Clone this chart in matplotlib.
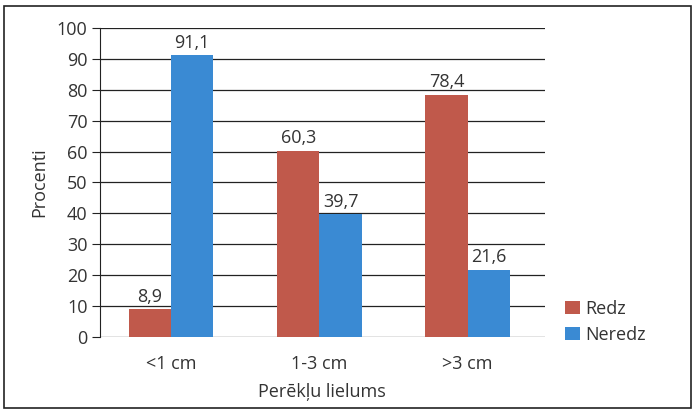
import matplotlib.pyplot as plt
import numpy as np
from matplotlib.patches import Rectangle

categories = ['<1 cm', '1-3 cm', '>3 cm']
redz = [8.9, 60.3, 78.4]
neredz = [91.1, 39.7, 21.6]
yticks = [0, 10, 20, 30, 40, 50, 60, 70, 80, 90, 100]

plt.rcParams['font.family'] = ['Open Sans', 'DejaVu Sans']
txt = '#333333'

fig = plt.figure(figsize=(6.97, 4.18), dpi=100)
ax = fig.add_axes([0.1435, 0.194, 0.638, 0.739])

x = np.arange(len(categories))
w = 0.285
b1 = ax.bar(x - w / 2, redz, w, color='#C0594B', label='Redz', zorder=3)
b2 = ax.bar(x + w / 2, neredz, w, color='#3A8AD3', label='Neredz', zorder=3)

for bars, vals in ((b1, redz), (b2, neredz)):
    for r, v in zip(bars, vals):
        ax.text(r.get_x() + r.get_width() / 2, v + 1.2, f'{v:.1f}'.replace('.', ','),
                ha='center', va='bottom', fontsize=13, color=txt)

ax.set_xlim(-0.48, 2.52)
ax.set_ylim(0, 100)
ax.set_yticks(yticks)
ax.yaxis.grid(True, color='#222222', linewidth=0.9, zorder=0)
ax.set_axisbelow(True)
for s in ('top', 'right', 'bottom'):
    ax.spines[s].set_visible(False)
ax.spines['left'].set_color('#222222')
ax.tick_params(axis='y', length=6, color='#222222', labelsize=13, labelcolor=txt, pad=3)
ax.tick_params(axis='x', length=0, labelsize=13, labelcolor=txt, pad=13)
ax.set_xticks(x)
ax.set_xticklabels(categories)
ax.set_ylabel('Procenti', fontsize=13, color=txt, labelpad=6)
ax.set_xlabel('Perēkļu lielums', fontsize=13, color=txt, labelpad=7)

ax.legend(loc='lower left', bbox_to_anchor=(1.01, -0.075), frameon=False,
          fontsize=13, handlelength=0.8, handleheight=0.8, handletextpad=0.3,
          labelspacing=0.45, labelcolor=txt)

fig.patches.append(Rectangle((0.006, 0.025), 0.985, 0.96, transform=fig.transFigure,
                             fill=False, edgecolor='#222222', linewidth=1.2))

fig.savefig('out.png', dpi=100)
